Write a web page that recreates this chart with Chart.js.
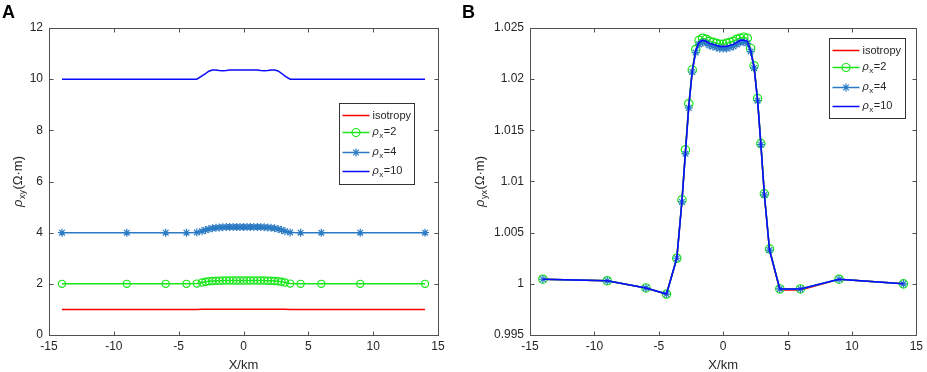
<!DOCTYPE html>
<html>
<head>
<meta charset="utf-8">
<script src="https://cdn.jsdelivr.net/npm/chart.js@4/dist/chart.umd.min.js"></script>
<style>
  html, body { margin: 0; padding: 0; background: #fff; }
  #wrap { position: relative; width: 927px; height: 372px; }
  #panelA { position: absolute; left: 0; top: 0; }
  #panelB { position: absolute; left: 460px; top: 0; }
</style>
</head>
<body>
<div id="wrap">
  <canvas id="panelA" width="460" height="372"></canvas>
  <canvas id="panelB" width="467" height="372"></canvas>
</div>
<script>
// measuring stations along the profile (km)
const xKm = [-14, -9, -6, -4.4, -3.6,
  -3.2, -2.93, -2.67, -2.4, -2.13, -1.87, -1.6, -1.33, -1.07, -0.8, -0.53, -0.27, 0,
  0.27, 0.53, 0.8, 1.07, 1.33, 1.6, 1.87, 2.13, 2.4, 2.67, 2.93, 3.2,
  3.6, 4.4, 6, 9, 14];

const seriesNames = ['isotropy', 'ρx=2', 'ρx=4', 'ρx=10'];

// panel A: rho_xy
const xyIso = [1, 1, 1, 1, 1,
  1.01, 1.01, 1.01, 1.01, 1.01, 1.01, 1.01, 1.01, 1.01, 1.01, 1.01, 1.01, 1.01,
  1.01, 1.01, 1.01, 1.01, 1.01, 1.01, 1.01, 1.01, 1.01, 1.01, 1.01, 1.01,
  1, 1, 1, 1, 1];
const xyRho2 = [2, 2, 2, 2, 2.01,
  2.05, 2.08, 2.10, 2.11, 2.12, 2.12, 2.13, 2.13, 2.13, 2.13, 2.13, 2.13, 2.13,
  2.13, 2.13, 2.13, 2.13, 2.13, 2.13, 2.12, 2.12, 2.11, 2.10, 2.08, 2.05,
  2.01, 2, 2, 2, 2];
const xyRho4 = [4, 4, 4, 4, 4.01,
  4.06, 4.10, 4.14, 4.17, 4.19, 4.20, 4.21, 4.22, 4.22, 4.22, 4.22, 4.22, 4.22,
  4.22, 4.22, 4.22, 4.22, 4.22, 4.21, 4.20, 4.19, 4.17, 4.14, 4.10, 4.06,
  4.01, 4, 4, 4, 4];
const xyRho10 = [10, 10, 10, 10, 10,
  10.13, 10.22, 10.31, 10.36, 10.36, 10.34, 10.33, 10.34, 10.36, 10.36, 10.36, 10.36, 10.36,
  10.36, 10.36, 10.36, 10.36, 10.34, 10.33, 10.34, 10.36, 10.36, 10.32, 10.23, 10.12,
  10, 10, 10, 10, 10];

// panel B: rho_yx
const yxIso = [1.00045, 1.0003, 0.9996, 0.9990, 1.0025,
  1.0081, 1.0129, 1.0174, 1.0208, 1.0228, 1.0236, 1.0238, 1.0237, 1.0235, 1.0234, 1.0233, 1.0232, 1.0232,
  1.0232, 1.0233, 1.0234, 1.0236, 1.0238, 1.0238, 1.0237, 1.0228, 1.0212, 1.0180, 1.0136, 1.0087,
  1.0033, 0.9994, 0.9994, 1.00045, 1.0];
const yxRho2 = [1.00045, 1.0003, 0.9996, 0.9990, 1.0025,
  1.0082, 1.0131, 1.0176, 1.0209, 1.0229, 1.0238, 1.0240, 1.0239, 1.0237, 1.0236, 1.0235, 1.0234, 1.0234,
  1.0235, 1.0236, 1.0237, 1.0239, 1.0240, 1.0241, 1.0240, 1.0230, 1.0213, 1.0181, 1.0137, 1.0088,
  1.0034, 0.9995, 0.9995, 1.00045, 1.0];
const yxRho4 = [1.00045, 1.0003, 0.9996, 0.9990, 1.0025,
  1.0080, 1.0127, 1.0172, 1.0207, 1.0226, 1.0234, 1.0236, 1.0235, 1.0233, 1.0232, 1.0231, 1.0230, 1.0230,
  1.0230, 1.0231, 1.0232, 1.0234, 1.0236, 1.0236, 1.0235, 1.0227, 1.0211, 1.0179, 1.0136, 1.0087,
  1.0033, 0.9995, 0.9995, 1.00045, 1.0];
const yxRho10 = [1.00045, 1.0003, 0.9996, 0.9990, 1.0025,
  1.0081, 1.0129, 1.0174, 1.0208, 1.0228, 1.0236, 1.0238, 1.0237, 1.0235, 1.0234, 1.0233, 1.0232, 1.0232,
  1.0232, 1.0233, 1.0234, 1.0236, 1.0238, 1.0238, 1.0237, 1.0228, 1.0212, 1.0180, 1.0136, 1.0087,
  1.0033, 0.9995, 0.9995, 1.00045, 1.0];

const FONT = "'Liberation Sans', Arial, sans-serif";
const TEXT = '#262626';
const colors = ['#ff0000', '#19e619', '#2b7bc4', '#0a0aff'];

function pts(vals) {
    return xKm.map((x, i) => ({ x: x, y: vals[i] }));
}

function makeDatasets(series, rCircle) {
    return [
        { label: seriesNames[0], data: pts(series[0]), borderColor: colors[0], borderWidth: 1.5, pointRadius: 0, order: 4 },
        { label: seriesNames[1], data: pts(series[1]), borderColor: colors[1], borderWidth: 1.5,
          pointStyle: 'circle', pointRadius: rCircle, pointBorderColor: colors[1], pointBackgroundColor: 'rgba(0,0,0,0)', pointBorderWidth: 1.2, order: 3 },
        { label: seriesNames[2], data: pts(series[2]), borderColor: colors[2], borderWidth: 1.5,
          pointStyle: 'star', pointRadius: 4, pointBorderColor: colors[2], pointBorderWidth: 1.2, order: 2 },
        { label: seriesNames[3], data: pts(series[3]), borderColor: colors[3], borderWidth: 1.5, pointRadius: 0, order: 1 }
    ];
}

// draws "ρ" + subscript + rest, starting at x (left aligned), y = middle
function drawRho(ctx, x, y, sub, rest, size) {
    ctx.textBaseline = 'middle';
    ctx.textAlign = 'left';
    ctx.font = 'italic ' + size + 'px ' + FONT;
    ctx.fillText('ρ', x, y);
    x += ctx.measureText('ρ').width + 0.5;
    ctx.font = Math.round(size * 0.72) + 'px ' + FONT;
    ctx.fillText(sub, x, y + size * 0.35);
    x += ctx.measureText(sub).width + 0.5;
    ctx.font = size + 'px ' + FONT;
    ctx.fillText(rest, x, y);
}

function measureRho(ctx, sub, rest, size) {
    ctx.font = 'italic ' + size + 'px ' + FONT;
    let w = ctx.measureText('ρ').width + 0.5;
    ctx.font = Math.round(size * 0.72) + 'px ' + FONT;
    w += ctx.measureText(sub).width + 0.5;
    ctx.font = size + 'px ' + FONT;
    return w + ctx.measureText(rest).width;
}

function drawMarker(ctx, style, x, y, r, color) {
    ctx.strokeStyle = color;
    ctx.lineWidth = 1.2;
    ctx.beginPath();
    if (style === 'circle') {
        ctx.arc(x, y, r, 0, Math.PI * 2);
    } else {
        for (let k = 0; k < 4; k++) {
            const a = k * Math.PI / 4;
            ctx.moveTo(x - r * Math.cos(a), y - r * Math.sin(a));
            ctx.lineTo(x + r * Math.cos(a), y + r * Math.sin(a));
        }
    }
    ctx.stroke();
}

const matlabFrame = {
    id: 'matlabFrame',
    afterDraw(chart, args, opts) {
        const ctx = chart.ctx;
        const a = chart.chartArea;
        const xs = chart.scales.x, ys = chart.scales.y;
        ctx.save();

        // box + inward ticks
        ctx.strokeStyle = '#505050';
        ctx.lineWidth = 1;
        const L = Math.round(a.left) + 0.5, R = Math.round(a.right) + 0.5;
        const T = Math.round(a.top) + 0.5, B = Math.round(a.bottom) + 0.5;
        ctx.strokeRect(L, T, R - L, B - T);
        ctx.beginPath();
        xs.ticks.forEach(t => {
            const px = Math.round(xs.getPixelForValue(t.value)) + 0.5;
            ctx.moveTo(px, B); ctx.lineTo(px, B - 4);
            ctx.moveTo(px, T); ctx.lineTo(px, T + 4);
        });
        ys.ticks.forEach(t => {
            const py = Math.round(ys.getPixelForValue(t.value)) + 0.5;
            ctx.moveTo(L, py); ctx.lineTo(L + 4, py);
            ctx.moveTo(R, py); ctx.lineTo(R - 4, py);
        });
        ctx.stroke();

        // panel letter
        ctx.fillStyle = '#000';
        ctx.font = 'bold 18px ' + FONT;
        ctx.textAlign = 'left';
        ctx.textBaseline = 'top';
        ctx.fillText(opts.letter, 2, 4);

        // axis titles
        ctx.fillStyle = TEXT;
        ctx.font = '13px ' + FONT;
        ctx.textAlign = 'center';
        ctx.textBaseline = 'middle';
        ctx.fillText('X/km', (a.left + a.right) / 2, 365);

        ctx.save();
        const cy = (a.top + a.bottom) / 2;
        ctx.translate(opts.yTitleX, cy);
        ctx.rotate(-Math.PI / 2);
        const w = measureRho(ctx, opts.ySub, '(Ω·m)', 13);
        drawRho(ctx, -w / 2, 0, opts.ySub, '(Ω·m)', 13);
        ctx.restore();

        // legend
        const lg = opts.legend;
        const bx = Math.round(a.right - lg.right - lg.w) + 0.5;
        const by = Math.round(a.top + lg.top) + 0.5;
        ctx.fillStyle = '#fff';
        ctx.fillRect(bx, by, lg.w, lg.h);
        ctx.strokeStyle = '#333';
        ctx.lineWidth = 1;
        ctx.strokeRect(bx, by, lg.w, lg.h);
        const rows = [12, 29, 49, 68];
        const styles = [null, 'circle', 'star', null];
        const subs = [null, ['x', '=2'], ['x', '=4'], ['x', '=10']];
        chart.data.datasets.forEach((ds, i) => {
            const ly = by + rows[i];
            ctx.strokeStyle = ds.borderColor;
            ctx.lineWidth = 1.5;
            ctx.beginPath();
            ctx.moveTo(bx + 3, ly);
            ctx.lineTo(bx + 30, ly);
            ctx.stroke();
            if (styles[i]) drawMarker(ctx, styles[i], bx + 16.5, ly, 4, ds.borderColor);
            ctx.fillStyle = TEXT;
            if (subs[i]) {
                drawRho(ctx, bx + 33, ly - 1, subs[i][0], subs[i][1], 11);
            } else {
                ctx.font = '11px ' + FONT;
                ctx.textAlign = 'left';
                ctx.textBaseline = 'middle';
                ctx.fillText(ds.label, bx + 33, ly);
            }
        });
        ctx.restore();
    }
};

function makeChart(id, series, yCfg, frameOpts, yWidth, rightPad, rCircle) {
    const ctx = document.getElementById(id).getContext('2d');
    return new Chart(ctx, {
        type: 'line',
        data: { datasets: makeDatasets(series, rCircle) },
        options: {
            responsive: false,
            animation: false,
            layout: { padding: { left: 0, right: rightPad, top: 28, bottom: 0 } },
            plugins: {
                legend: { display: false },
                tooltip: { enabled: false },
                matlabFrame: frameOpts
            },
            elements: { line: { tension: 0 } },
            scales: {
                x: {
                    type: 'linear',
                    min: -15, max: 15,
                    border: { display: false },
                    grid: { display: false, drawTicks: false },
                    ticks: { stepSize: 5, padding: 4, color: TEXT, font: { family: FONT, size: 12 }, maxRotation: 0 },
                    afterFit: s => { s.height = 37; }
                },
                y: {
                    type: 'linear',
                    min: yCfg.min, max: yCfg.max,
                    border: { display: false },
                    grid: { display: false, drawTicks: false },
                    ticks: {
                        stepSize: yCfg.step, padding: 6, color: TEXT, font: { family: FONT, size: 12 },
                        callback: v => String(Number(v.toFixed(4)))
                    },
                    afterFit: s => { s.width = yWidth; }
                }
            }
        },
        plugins: [matlabFrame]
    });
}

makeChart('panelA', [xyIso, xyRho2, xyRho4, xyRho10],
    { min: 0, max: 12, step: 2 },
    { letter: 'A', ySub: 'xy', yTitleX: 18, legend: { right: 24, top: 75, w: 75, h: 81 } },
    49, 22, 3.6);

makeChart('panelB', [yxIso, yxRho2, yxRho4, yxRho10],
    { min: 0.995, max: 1.025, step: 0.005 },
    { letter: 'B', ySub: 'yx', yTitleX: 20, legend: { right: 11, top: 10, w: 76, h: 80 } },
    70, 8, 4.2);
</script>
</body>
</html>
